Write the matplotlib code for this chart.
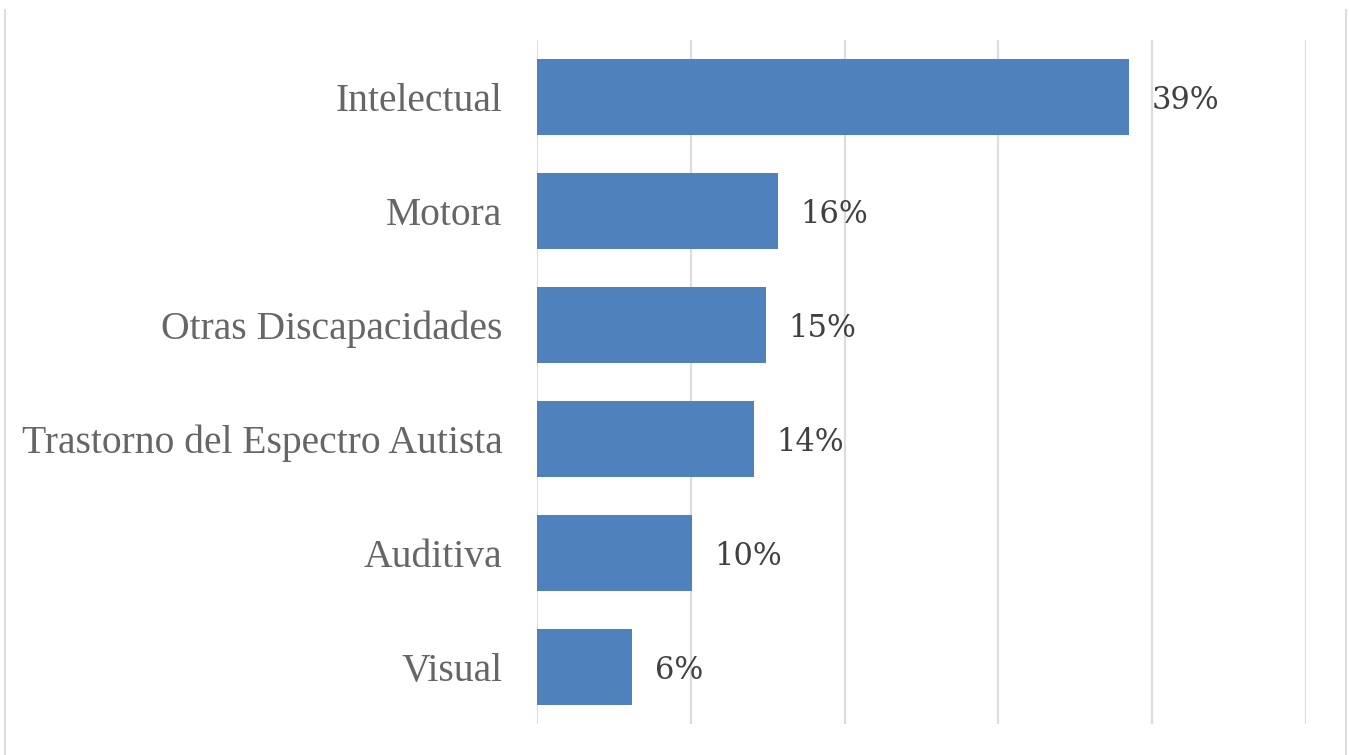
import matplotlib.pyplot as plt
from matplotlib.lines import Line2D

# discapacidad por tipo
categorias = ['Intelectual', 'Motora', 'Otras Discapacidades',
              'Trastorno del Espectro Autista', 'Auditiva', 'Visual']
valores = [0.385, 0.157, 0.149, 0.141, 0.101, 0.062]
etiquetas = ['39%', '16%', '15%', '14%', '10%', '6%']

plt.rcParams['font.family'] = ['DejaVu Serif']

fig = plt.figure(figsize=(13.49, 7.55), dpi=100)
ax = fig.add_axes([537 / 1349, 31 / 755, 769 / 1349, 684 / 755])

pos = list(range(len(categorias)))
bars = ax.barh(pos, valores, height=0.66, color='#4F81BD', zorder=3)

for b, txt in zip(bars, etiquetas):
    ax.annotate(txt, (b.get_width(), b.get_y() + b.get_height() / 2),
                xytext=(16, -2.5), textcoords='offset points',
                ha='left', va='center', fontsize=22, color='#404040')

ax.set_xlim(0, 0.5)
ax.set_ylim(-0.5, len(categorias) - 0.5)
ax.invert_yaxis()
ax.set_yticks(pos)
ax.set_yticklabels(categorias, fontsize=28.5, color='#666666',
                   family='Liberation Serif')
ax.set_xticks([0, 0.1, 0.2, 0.3, 0.4, 0.5])
ax.tick_params(axis='x', labelbottom=False, length=0)
ax.tick_params(axis='y', length=0, pad=25)
ax.grid(axis='x', color='#dddddd', linewidth=1.6, zorder=0)
for s in ax.spines.values():
    s.set_visible(False)

# chart frame (left/right edges)
fig.add_artist(Line2D([5 / 1349, 5 / 1349], [0, 745 / 755], transform=fig.transFigure,
                      color='#dddddd', linewidth=1.5))
fig.add_artist(Line2D([1346 / 1349, 1346 / 1349], [0, 745 / 755], transform=fig.transFigure,
                      color='#dddddd', linewidth=1.5))

fig.savefig('out.png', dpi=100, facecolor='white')
